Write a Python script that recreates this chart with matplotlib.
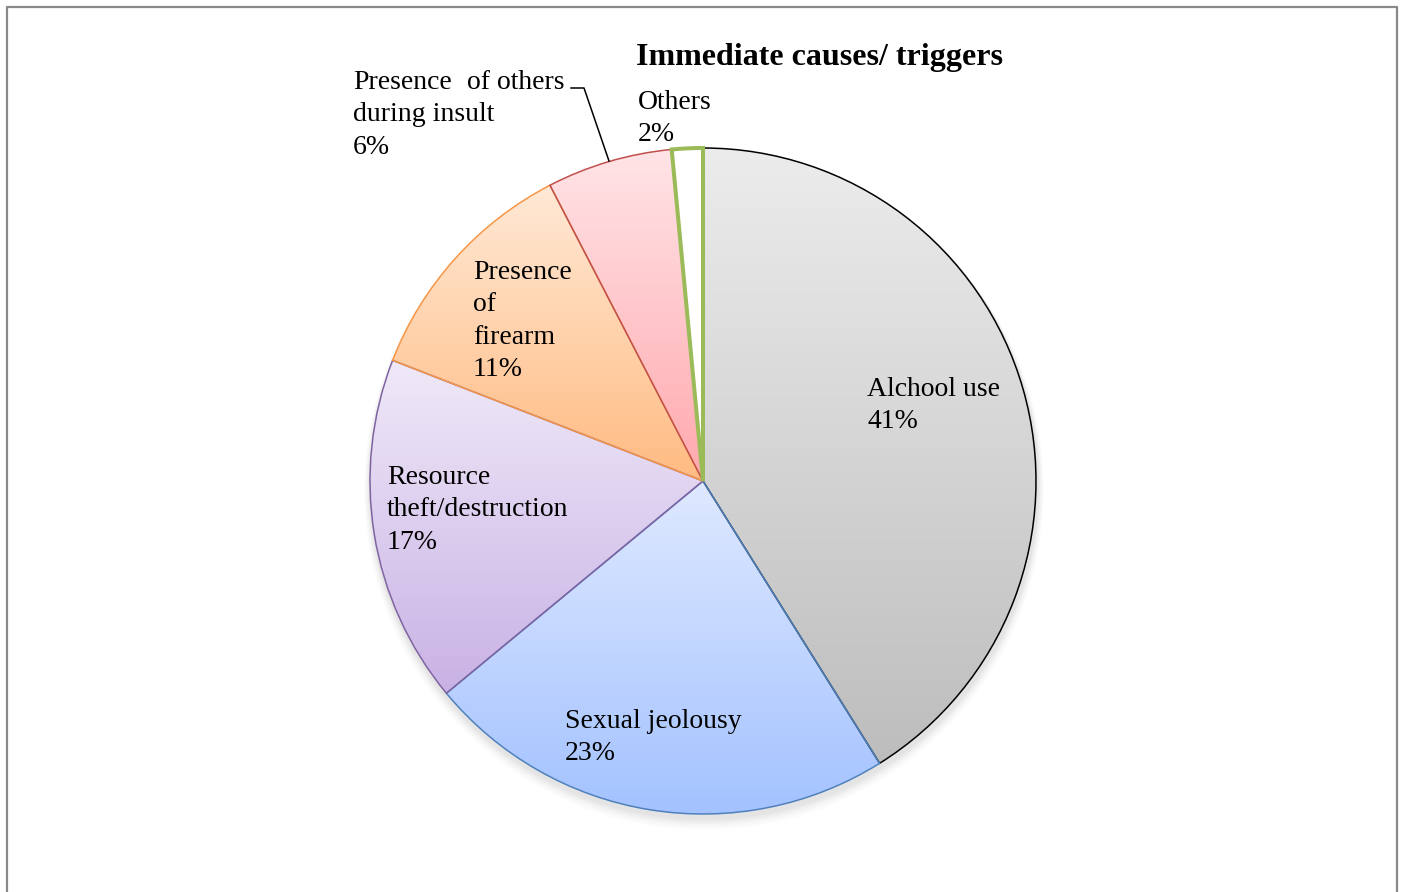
import numpy as np
import matplotlib
matplotlib.use("Agg")
import matplotlib.pyplot as plt
from matplotlib.colors import to_rgb
from matplotlib.patches import Circle

# ---- data ----
categories = ["Alchool use", "Sexual jeolousy", "Resource\ntheft/destruction",
              "Presence\nof\nfirearm", "Presence of others\nduring insult", "Others"]
values = [41.1, 22.9, 16.9, 11.5, 6.1, 1.5]
pct_labels = ["41%", "23%", "17%", "11%", "6%", "2%"]
title = "Immediate causes/ triggers"

# ---- styles ----
grad_top = ["#ECECEC", "#DFE9FF", "#EFE9F8", "#FFE9D6", "#FFE4E7", "#FFFFFF"]
grad_bot = ["#BDBDBD", "#A3C2FF", "#C9B2E5", "#FFBB82", "#FFA9AE", "#FFFFFF"]
edges = ["#000000", "#4F81BD", "#8064A2", "#F79646", "#C0504D", "#9BBB59"]
edge_w = [1.1, 1.1, 1.1, 1.1, 1.1, 2.9]
# label anchor: (x, y of first line centre) in pixels from top-left
label_pos = [(867, 387), (565, 719), (387, 475), (473, 270), (353, 80), (638, 100)]

W, H = 1404, 892
fig = plt.figure(figsize=(W / 100, H / 100), dpi=100)
ax = fig.add_axes([0, 0, 1, 1])
ax.set_axis_off()

cx, cy, R = 703, H - 481, 333

# soft shadow
for i, a in enumerate(np.linspace(0.025, 0.01, 6)):
    ax.add_patch(Circle((cx + 1, cy - 4 - i), R + 2 + i, facecolor="black",
                        edgecolor="none", alpha=a, zorder=1))

wedges, _ = ax.pie(values, startangle=90, counterclock=False, center=(cx, cy),
                   radius=R, wedgeprops=dict(facecolor="none"))

for k, w in enumerate(wedges):
    w.set_edgecolor(edges[k])
    w.set_linewidth(edge_w[k])
    w.set_zorder(4 if k < 5 else 5)
    bb = w.get_path().get_extents()
    t = np.array(to_rgb(grad_top[k]))
    b = np.array(to_rgb(grad_bot[k]))
    s = np.linspace(0, 1, 256)[:, None, None]
    img = t[None, None, :] * (1 - s) + b[None, None, :] * s
    im = ax.imshow(img, extent=(bb.x0, bb.x1, bb.y0, bb.y1), origin="upper",
                   aspect="auto", interpolation="bilinear", zorder=2)
    im.set_clip_path(w)

font = "Liberation Serif"
fs = 20
step = 32.3

for k, (name, pct) in enumerate(zip(categories, pct_labels)):
    x, y0 = label_pos[k]
    lines = name.split("\n") + [pct]
    for i, ln in enumerate(lines):
        yc = y0 + i * step
        if k == 4 and i == 0:
            # justified first line in reference
            for word, wx in zip(["Presence", "of", "others"], [353, 467, 497]):
                ax.text(wx, H - (yc - 10), word, fontsize=fs, family=font,
                        ha="left", va="top", zorder=6)
        else:
            ax.text(x, H - (yc - 10), ln, fontsize=fs, family=font,
                    ha="left", va="top", zorder=6)

ax.text(820, H - 57, title, fontsize=23, family=font, weight="bold",
        ha="center", va="center", zorder=6)

# leader line
ax.plot([571, 584, 609], [H - 88, H - 88, H - 161], color="black", lw=1.1, zorder=6)

# frame
ax.plot([7, 7, 1397, 1397], [-10, H - 7, H - 7, -10], color="#898989", lw=1.6,
        zorder=7, clip_on=False)

ax.set_xlim(0, W)
ax.set_ylim(0, H)
ax.set_aspect("equal")
fig.savefig("out.png", dpi=100, facecolor="white")
